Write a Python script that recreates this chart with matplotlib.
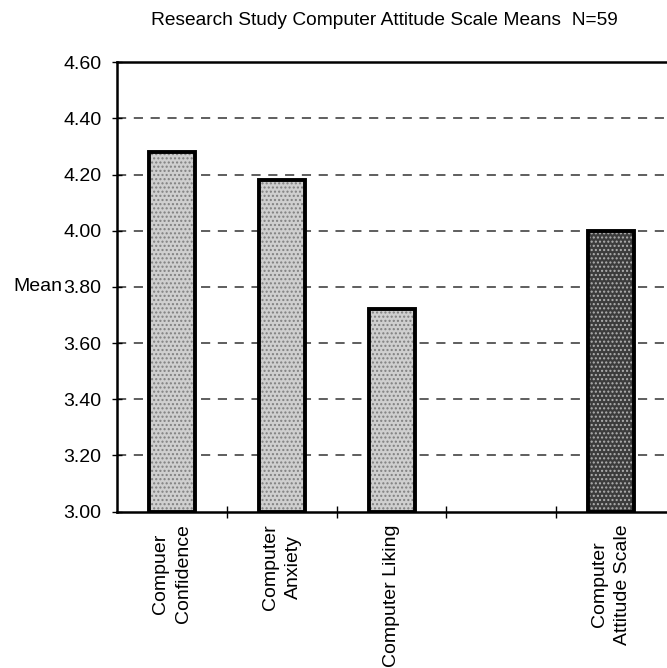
import matplotlib.pyplot as plt
import numpy as np

# mean scores per subscale; the empty slot keeps a gap before the total scale
labels = ["Compuer\nConfidence", "Computer\nAnxiety", "Computer Liking", "", "Computer\nAttitude Scale"]
means = [4.28, 4.18, 3.72, np.nan, 4.00]
shade = ["#cfcfcf", "#cfcfcf", "#cfcfcf", "#cfcfcf", "#3c3c3c"]
dots = ["#808080", "#808080", "#808080", "#808080", "#b0b0b0"]
yticks = [3.00, 3.20, 3.40, 3.60, 3.80, 4.00, 4.20, 4.40, 4.60]

plt.rcParams["font.family"] = ["Liberation Sans", "DejaVu Sans"]

fig = plt.figure(figsize=(6.67, 6.68), dpi=100)
ax = fig.add_axes([0.176, 0.234, 0.822, 0.673])

x = np.arange(len(labels))
for xi, m, c, d in zip(x, means, shade, dots):
    if np.isnan(m):
        continue
    ax.bar(xi, m - 3.0, bottom=3.0, width=0.42, color=c, hatch="....",
           edgecolor=d, linewidth=0, zorder=3)
    ax.bar(xi, m - 3.0, bottom=3.0, width=0.42, fill=False,
           edgecolor="black", linewidth=2.8, zorder=4)

ax.set_xlim(-0.5, len(labels) - 0.5)
ax.set_ylim(3.0, 4.6)
ax.set_yticks(yticks)
ax.set_yticklabels([f"{v:.2f}" for v in yticks], fontsize=14)
ax.tick_params(axis="y", direction="inout", length=7, width=1, pad=8)

# category labels under the bars, boundary ticks between them
ax.set_xticks(x)
ax.set_xticklabels(labels, rotation=90, fontsize=14, va="top", ha="center",
                   multialignment="center", linespacing=1.45)
ax.tick_params(axis="x", which="major", length=0, pad=9)
ax.set_xticks(np.arange(0.5, len(labels) - 0.5, 1.0), minor=True)
ax.tick_params(axis="x", which="minor", direction="inout", length=8, width=1)

for v in yticks[1:-1]:
    ax.axhline(v, color="#333333", linestyle=(0, (6, 5)), linewidth=1.1, zorder=1)

for side in ["left", "bottom", "top"]:
    ax.spines[side].set_linewidth(1.8)
ax.spines["right"].set_visible(False)

ax.set_ylabel("Mean", rotation=0, fontsize=14, ha="right", va="center")
ax.yaxis.set_label_coords(-0.101, 0.5)

fig.text(0.577, 0.969, "Research Study Computer Attitude Scale Means  N=59",
         fontsize=13.8, ha="center", va="center")

fig.savefig("out.png", dpi=100)
